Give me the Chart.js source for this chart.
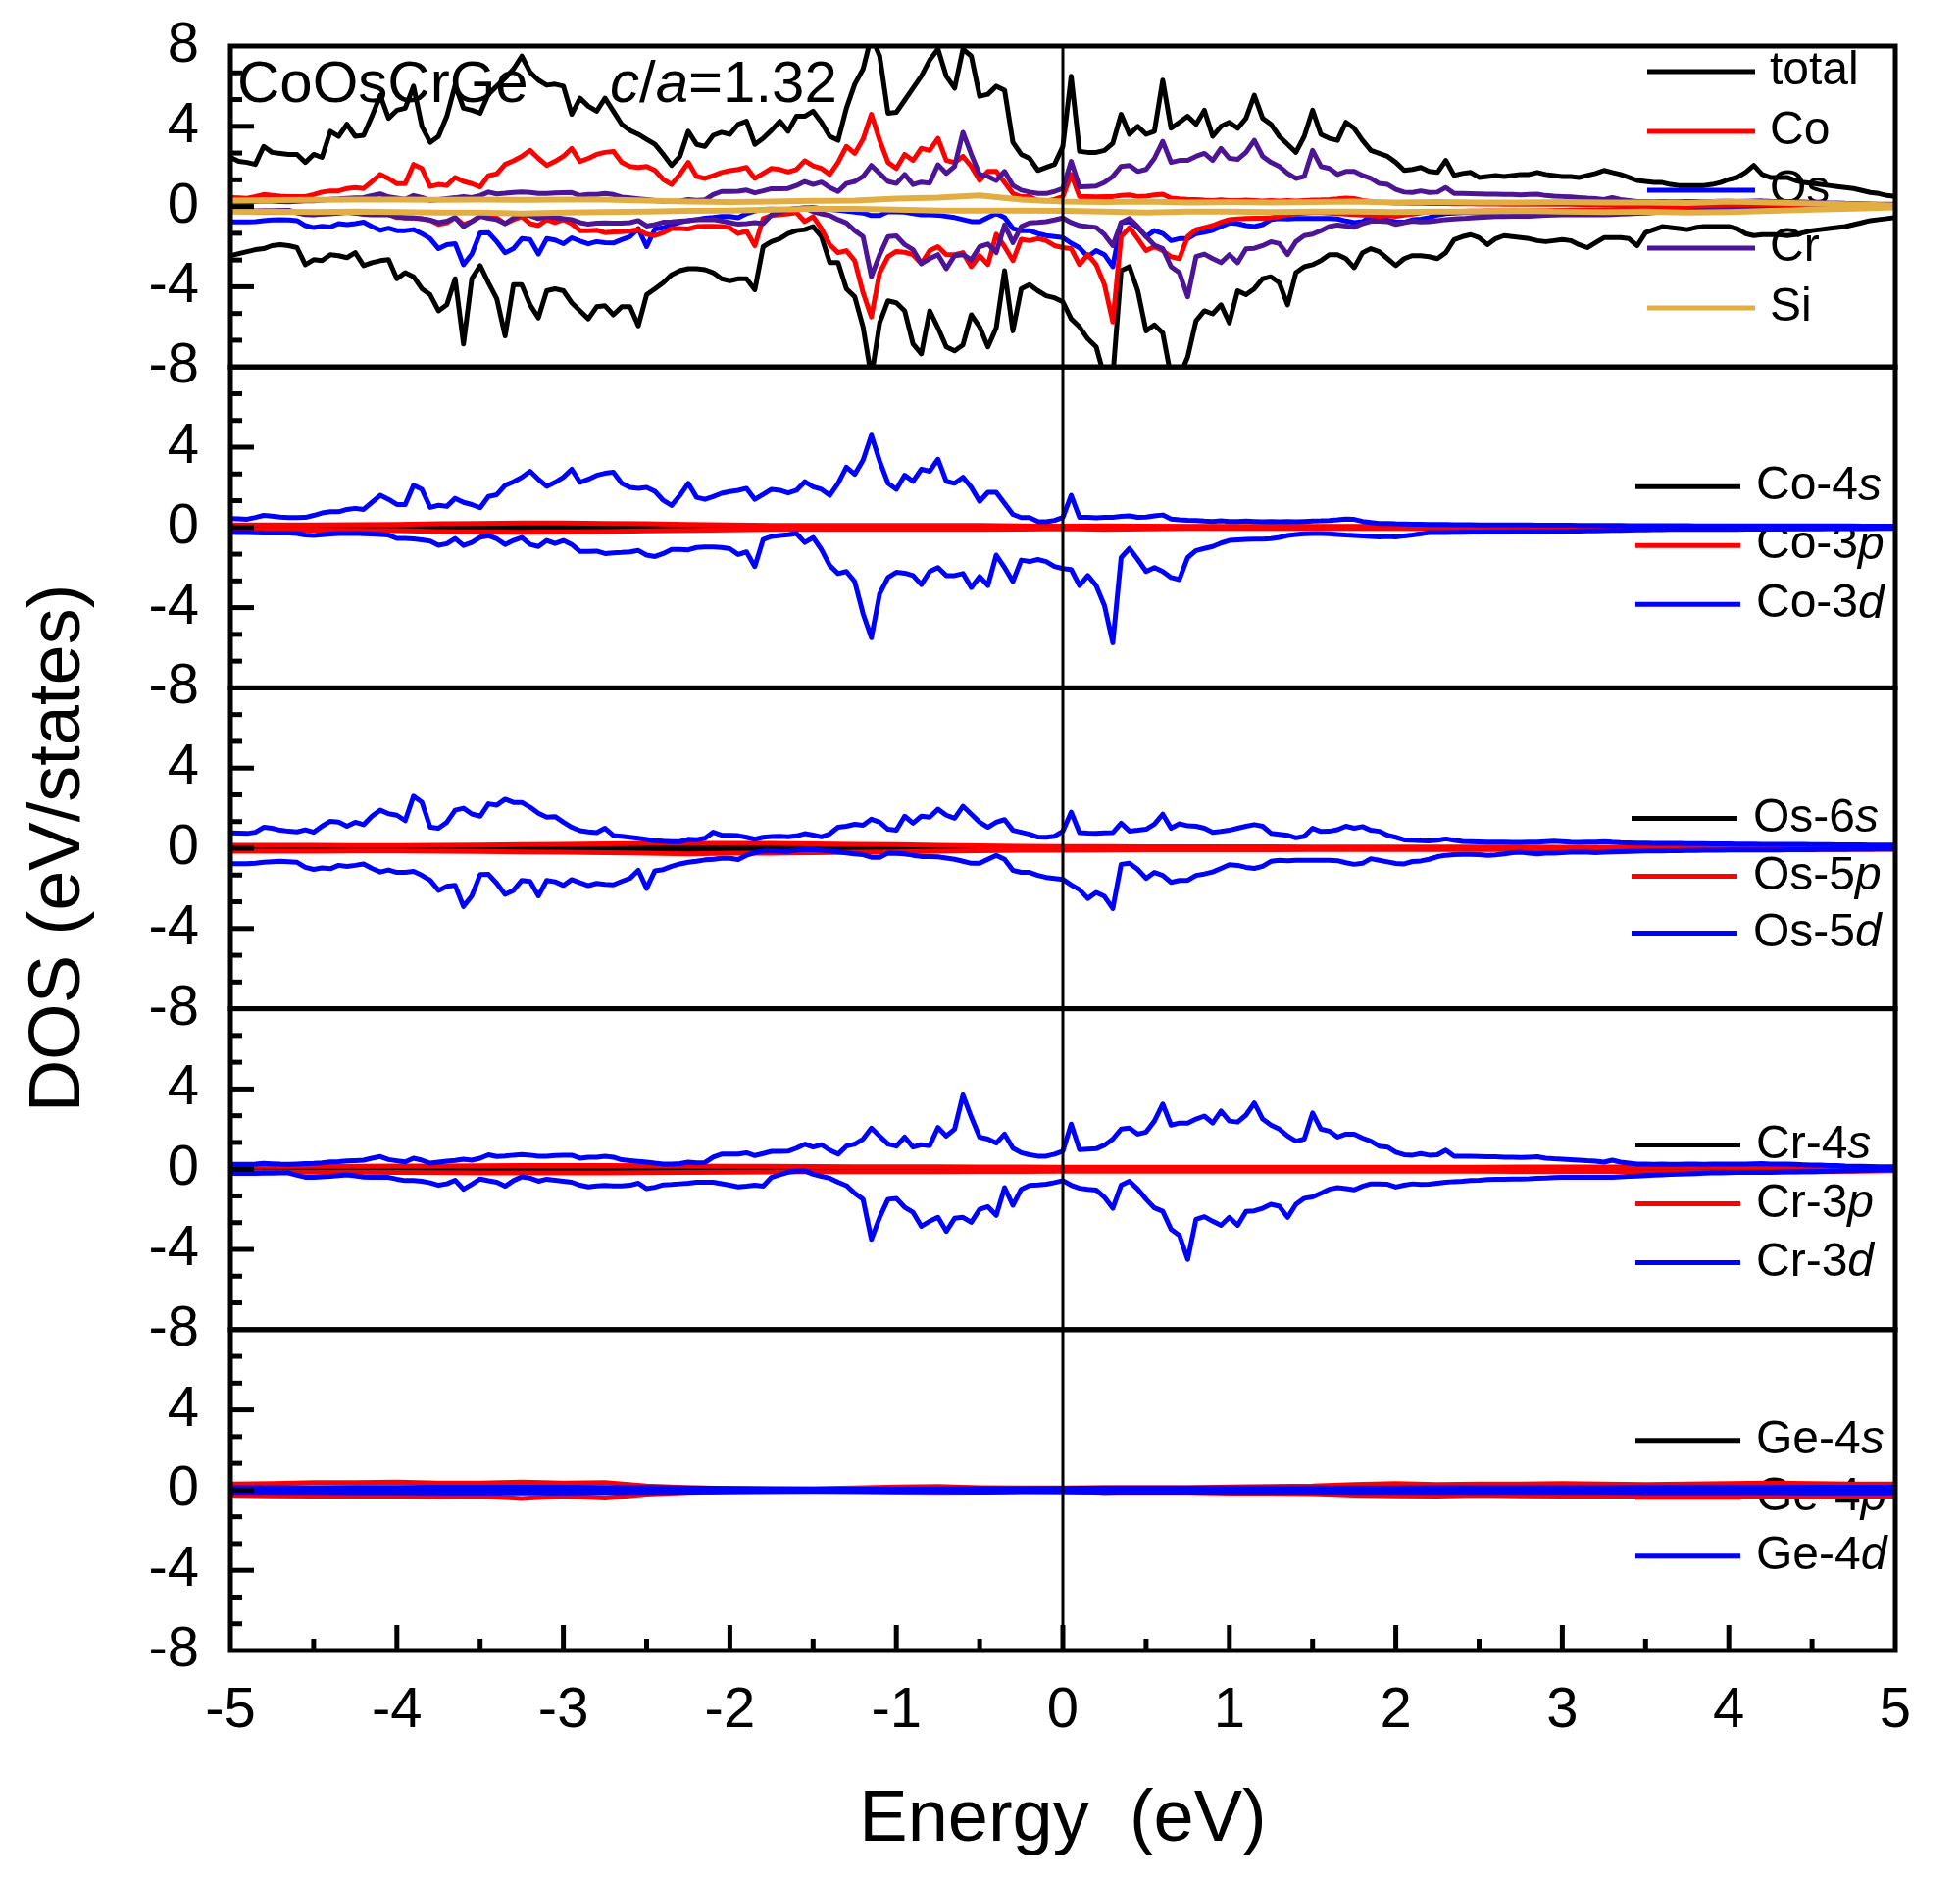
<!DOCTYPE html>
<html><head><meta charset="utf-8">
<script src="https://cdn.jsdelivr.net/npm/chart.js@4.4.1/dist/chart.umd.min.js"></script>
<style>html,body{margin:0;padding:0;background:#fff;}canvas{display:block;}</style>
</head><body>
<canvas id="c" width="1999" height="1917" style="width:1999px;height:1917px"></canvas>
<script>
// ---------- axes / categories ----------
const xTickValues = [-5,-4,-3,-2,-1,0,1,2,3,4,5];
const yTickValues = [-8,-4,0,4,8];
const energyFine = Array.from({length:201}, (_, i) => +(-5 + i * 0.05).toFixed(2));   // -5 .. 5 step 0.05
const energyCoarse = Array.from({length:41}, (_, i) => -5 + i * 0.25);               // -5 .. 5 step 0.25

const compoundName = 'CoOsCrGe';
const ratioText = [['c', true], ['/', false], ['a', true], ['=1.32', false]];
const xTitle = 'Energy  (eV)';
const yTitle = 'DOS (eV/states)';

const legendTopLabels = ['total','Co','Os','Cr','Si'];
const legendCoLabels = ['Co-4s','Co-3p','Co-3d'];
const legendOsLabels = ['Os-6s','Os-5p','Os-5d'];
const legendCrLabels = ['Cr-4s','Cr-3p','Cr-3d'];
const legendGeLabels = ['Ge-4s','Ge-4p','Ge-4d'];

// ---------- series (fine grid, 201 pts) ----------
const totalUp = [
2.45,2.25,2.2,2.1,3.0,2.7,2.65,2.6,2.6,2.2,
2.6,2.45,3.75,3.5,4.1,3.5,3.55,4.5,5.55,4.4,
4.8,4.9,6.0,4.0,3.2,3.5,4.5,6.05,4.9,4.8,
4.65,5.6,6.0,6.4,6.85,7.5,6.7,6.3,6.05,6.1,
6.0,4.6,5.4,5.0,4.75,5.4,4.75,4.1,3.8,3.6,
3.35,3.1,2.6,2.05,2.5,3.75,3.1,3.0,3.55,3.7,
3.6,4.1,4.25,3.1,3.4,3.8,4.25,3.75,4.5,4.5,
4.75,4.2,3.5,3.3,4.9,6.1,6.85,8.5,7.5,4.65,
4.7,5.3,5.9,6.5,7.3,7.85,6.5,5.9,7.85,7.5,
5.5,5.6,6.0,5.8,3.2,2.6,2.4,1.8,1.95,2.1,
3.0,6.5,2.75,2.7,2.7,2.8,3.15,4.6,3.6,4.0,
3.6,3.75,6.3,3.9,4.2,4.5,4.1,4.8,3.5,4.0,
4.2,3.9,4.4,5.55,4.4,4.1,3.5,3.1,2.7,3.5,
4.8,3.6,3.4,3.3,4.2,3.9,3.3,2.8,2.65,2.5,
2.2,1.8,1.85,1.95,1.75,1.7,2.3,1.55,1.65,1.7,
1.45,1.5,1.55,1.5,1.55,1.6,1.6,1.7,1.6,1.55,
1.5,1.5,1.45,1.55,1.65,1.8,1.7,1.6,1.45,1.3,
1.25,1.2,1.2,1.1,1.05,1.05,1.05,1.05,1.1,1.2,
1.35,1.45,1.7,2.05,1.6,1.45,1.45,1.45,1.3,1.2,
1.15,1.1,1.05,1.0,0.95,0.9,0.8,0.7,0.65,0.55,
0.5];
const totalDn = [
-2.45,-2.35,-2.25,-2.15,-2.1,-1.95,-1.9,-1.95,-2.05,-2.9,
-2.65,-2.7,-2.4,-2.45,-2.55,-2.3,-2.95,-2.8,-2.7,-2.65,
-3.6,-3.3,-3.5,-4.1,-4.4,-5.2,-4.9,-3.6,-6.85,-3.6,
-2.95,-3.8,-4.6,-6.45,-3.9,-3.9,-4.9,-5.55,-4.2,-4.1,
-4.2,-4.8,-5.2,-5.6,-5.0,-4.95,-5.4,-5.0,-5.0,-5.95,
-4.4,-4.1,-3.8,-3.4,-3.2,-3.1,-3.1,-3.15,-3.3,-3.6,
-3.7,-3.6,-3.6,-4.15,-2.0,-1.75,-1.6,-1.35,-1.2,-1.15,
-1.0,-1.5,-2.8,-2.8,-4.1,-4.5,-6.0,-8.5,-5.8,-4.7,
-4.8,-5.2,-6.85,-7.35,-5.2,-6.05,-7.0,-7.2,-6.9,-5.4,
-6.0,-7.0,-6.05,-3.2,-6.2,-4.1,-3.9,-4.2,-4.45,-4.55,
-4.75,-5.6,-6.0,-6.6,-7.0,-8.5,-8.5,-3.2,-3.0,-4.2,
-6.2,-5.9,-6.3,-8.5,-8.5,-7.5,-5.7,-5.2,-5.35,-4.9,
-5.8,-4.2,-4.4,-4.1,-3.6,-3.5,-3.8,-4.9,-3.3,-3.0,
-2.9,-2.7,-2.4,-2.4,-2.6,-3.05,-2.3,-2.1,-2.25,-2.6,
-2.95,-2.6,-2.45,-2.45,-2.5,-2.6,-2.3,-1.65,-1.5,-1.4,
-1.55,-1.9,-1.6,-1.45,-1.5,-1.55,-1.6,-1.7,-1.75,-1.7,
-1.65,-1.7,-1.9,-2.05,-1.8,-1.55,-1.55,-1.55,-1.6,-1.95,
-1.3,-1.15,-1.0,-1.05,-1.1,-1.15,-1.05,-1.0,-1.0,-1.0,
-1.0,-1.1,-1.35,-1.45,-1.4,-1.4,-1.4,-1.45,-1.4,-1.3,
-1.2,-1.15,-1.1,-1.05,-1.0,-0.9,-0.8,-0.7,-0.65,-0.6,
-0.55];
const coUp = [
0.44,0.43,0.41,0.5,0.6,0.56,0.52,0.49,0.49,0.5,
0.6,0.72,0.78,0.78,0.9,0.95,0.9,1.25,1.6,1.4,
1.14,1.14,2.1,1.9,1.0,1.1,1.05,1.45,1.25,1.14,
0.98,1.54,1.63,2.1,2.28,2.5,2.8,2.4,2.05,2.25,
2.5,2.9,2.25,2.4,2.6,2.7,2.75,2.2,2.0,1.95,
2.0,1.8,1.35,1.1,1.6,2.2,1.5,1.4,1.54,1.7,
1.79,1.85,1.95,1.4,1.65,1.9,1.85,1.72,1.85,2.28,
2.03,1.9,1.6,2.2,3.0,2.65,3.35,4.6,3.3,2.2,
1.9,2.6,2.3,2.9,2.8,3.4,2.3,2.2,2.5,2.0,
1.3,1.75,1.75,1.2,0.65,0.49,0.49,0.3,0.28,0.35,
0.5,1.6,0.5,0.5,0.48,0.5,0.5,0.55,0.58,0.5,
0.52,0.58,0.62,0.42,0.38,0.36,0.35,0.32,0.3,0.33,
0.3,0.3,0.32,0.3,0.28,0.3,0.28,0.3,0.28,0.3,
0.32,0.33,0.35,0.38,0.42,0.4,0.3,0.25,0.2,0.2,
0.18,0.17,0.16,0.16,0.15,0.15,0.15,0.14,0.14,0.14,
0.13,0.13,0.13,0.12,0.12,0.12,0.12,0.11,0.11,0.11,
0.11,0.11,0.1,0.1,0.1,0.1,0.1,0.1,0.09,0.09,
0.09,0.09,0.09,0.09,0.09,0.09,0.08,0.08,0.08,0.08,
0.08,0.08,0.08,0.08,0.08,0.08,0.08,0.07,0.07,0.07,
0.07,0.07,0.07,0.07,0.07,0.07,0.06,0.06,0.06,0.06,
0.06];
const coDn = [
-0.24,-0.25,-0.26,-0.27,-0.28,-0.28,-0.28,-0.28,-0.3,-0.38,
-0.4,-0.36,-0.33,-0.3,-0.3,-0.29,-0.31,-0.33,-0.35,-0.38,
-0.55,-0.55,-0.57,-0.62,-0.68,-0.89,-0.81,-0.55,-0.9,-0.75,
-0.49,-0.41,-0.57,-0.85,-0.65,-0.5,-0.85,-0.95,-0.65,-0.8,
-0.65,-0.85,-1.2,-1.2,-1.18,-1.3,-1.27,-1.25,-1.22,-1.15,
-1.38,-1.45,-1.3,-1.1,-1.1,-1.12,-1.0,-0.98,-0.98,-1.0,
-1.06,-1.35,-1.22,-1.95,-0.6,-0.45,-0.4,-0.36,-0.3,-0.75,
-0.5,-1.1,-1.9,-2.3,-2.2,-2.7,-4.3,-5.5,-3.3,-2.5,
-2.24,-2.28,-2.4,-2.85,-2.2,-2.0,-2.4,-2.4,-2.3,-3.0,
-2.45,-2.9,-1.38,-2.0,-2.7,-1.63,-1.7,-1.6,-1.7,-1.95,
-2.05,-2.1,-2.9,-2.4,-2.9,-3.9,-5.75,-1.5,-1.05,-1.6,
-2.2,-2.0,-2.2,-2.5,-2.6,-1.5,-1.15,-1.05,-0.95,-0.78,
-0.65,-0.62,-0.6,-0.58,-0.58,-0.56,-0.5,-0.4,-0.35,-0.32,
-0.3,-0.3,-0.32,-0.35,-0.38,-0.4,-0.42,-0.45,-0.48,-0.45,
-0.48,-0.42,-0.38,-0.32,-0.25,-0.25,-0.25,-0.24,-0.24,-0.23,
-0.23,-0.22,-0.22,-0.22,-0.21,-0.21,-0.2,-0.2,-0.2,-0.19,
-0.19,-0.18,-0.18,-0.17,-0.17,-0.16,-0.15,-0.14,-0.13,-0.12,
-0.12,-0.11,-0.11,-0.1,-0.1,-0.1,-0.1,-0.1,-0.09,-0.09,
-0.09,-0.09,-0.08,-0.08,-0.08,-0.08,-0.08,-0.07,-0.07,-0.07,
-0.07,-0.07,-0.06,-0.06,-0.06,-0.06,-0.06,-0.06,-0.05,-0.05,
-0.05];
const osUp = [
0.77,0.76,0.74,0.8,1.05,1.0,0.9,0.85,0.82,0.92,
0.8,1.1,1.35,1.31,1.1,1.3,1.18,1.6,1.9,1.72,
1.65,1.38,2.6,2.3,1.05,1.0,1.3,1.9,2.0,1.71,
1.6,2.22,2.15,2.45,2.29,2.29,2.05,1.75,1.55,1.58,
1.3,1.05,0.88,0.82,0.78,1.0,0.64,0.6,0.55,0.5,
0.44,0.38,0.35,0.33,0.33,0.45,0.43,0.5,0.8,0.65,
0.65,0.63,0.55,0.45,0.55,0.59,0.6,0.58,0.62,0.73,
0.66,0.57,0.72,1.05,1.1,1.2,1.15,1.45,1.3,0.95,
0.9,1.6,1.25,1.6,1.55,1.95,1.65,1.5,2.1,1.7,
1.3,1.05,1.3,1.43,0.9,0.8,0.7,0.56,0.55,0.6,
0.85,1.8,0.78,0.76,0.75,0.77,0.78,1.25,0.86,0.9,
0.95,1.2,1.7,1.0,1.22,1.12,1.1,1.0,0.8,0.84,
0.9,1.0,1.1,1.18,1.1,0.75,0.7,0.65,0.52,0.6,
1.0,0.84,0.85,0.93,1.1,1.0,1.08,0.9,0.85,0.65,
0.55,0.42,0.4,0.38,0.37,0.4,0.47,0.4,0.34,0.33,
0.32,0.31,0.3,0.3,0.29,0.29,0.3,0.31,0.33,0.35,
0.33,0.3,0.29,0.3,0.31,0.33,0.3,0.28,0.27,0.26,
0.26,0.25,0.25,0.24,0.24,0.23,0.23,0.23,0.22,0.22,
0.22,0.21,0.21,0.21,0.2,0.2,0.2,0.19,0.19,0.19,
0.18,0.18,0.18,0.17,0.17,0.17,0.17,0.16,0.16,0.16,
0.16];
const osDn = [
-0.77,-0.77,-0.77,-0.75,-0.7,-0.67,-0.65,-0.67,-0.7,-0.95,
-1.05,-0.98,-1.02,-0.85,-0.9,-0.85,-0.78,-1.0,-1.18,-1.08,
-1.2,-1.2,-1.15,-1.35,-1.6,-2.1,-1.9,-1.85,-2.9,-2.37,
-1.31,-1.3,-1.75,-2.3,-2.1,-1.6,-1.65,-2.37,-1.6,-1.67,
-1.85,-1.56,-1.72,-1.86,-1.75,-1.8,-1.82,-1.65,-1.5,-1.1,
-2.0,-1.12,-1.06,-0.9,-0.78,-0.7,-0.65,-0.58,-0.55,-0.5,
-0.5,-0.56,-0.35,-0.22,-0.14,-0.13,-0.15,-0.16,-0.1,-0.07,
-0.06,-0.1,-0.14,-0.18,-0.23,-0.28,-0.32,-0.45,-0.45,-0.25,
-0.26,-0.28,-0.35,-0.41,-0.41,-0.43,-0.49,-0.55,-0.65,-0.75,
-0.75,-0.55,-0.35,-0.55,-1.1,-1.2,-1.2,-1.35,-1.45,-1.5,
-1.55,-1.83,-2.06,-2.5,-2.2,-2.4,-3.0,-0.8,-0.75,-1.05,
-1.5,-1.2,-1.35,-1.7,-1.6,-1.6,-1.35,-1.28,-1.18,-1.0,
-0.82,-0.85,-0.95,-1.0,-0.9,-0.65,-0.6,-0.62,-0.6,-0.6,
-0.6,-0.6,-0.6,-0.62,-0.72,-0.8,-0.75,-0.52,-0.6,-0.68,
-0.76,-0.78,-0.66,-0.63,-0.55,-0.42,-0.35,-0.32,-0.3,-0.3,
-0.32,-0.36,-0.33,-0.28,-0.22,-0.2,-0.25,-0.28,-0.25,-0.24,
-0.22,-0.2,-0.2,-0.2,-0.22,-0.2,-0.18,-0.17,-0.16,-0.15,
-0.14,-0.13,-0.13,-0.12,-0.12,-0.11,-0.11,-0.1,-0.1,-0.1,
-0.09,-0.09,-0.09,-0.08,-0.08,-0.08,-0.08,-0.07,-0.07,-0.07,
-0.07,-0.06,-0.06,-0.06,-0.06,-0.05,-0.05,-0.05,-0.04,-0.04,
-0.04];
const crUp = [
0.24,0.24,0.24,0.26,0.29,0.27,0.25,0.24,0.26,0.28,
0.29,0.32,0.36,0.38,0.41,0.43,0.45,0.55,0.63,0.48,
0.42,0.36,0.55,0.45,0.3,0.35,0.4,0.44,0.5,0.45,
0.55,0.72,0.63,0.66,0.7,0.73,0.7,0.65,0.65,0.68,
0.69,0.7,0.55,0.6,0.6,0.65,0.6,0.47,0.43,0.39,
0.35,0.3,0.26,0.25,0.28,0.35,0.31,0.33,0.6,0.75,
0.75,0.76,0.82,0.68,0.78,0.89,0.89,0.9,1.05,1.25,
1.1,1.22,0.95,0.75,1.15,1.25,1.5,2.05,1.65,1.25,
1.15,1.6,1.1,1.22,1.17,2.08,1.65,2.0,3.7,2.6,
1.6,1.5,1.3,1.75,1.05,0.82,0.72,0.65,0.65,0.75,
0.9,2.25,0.98,1.0,1.02,1.2,1.5,2.0,2.05,1.75,
1.85,2.4,3.25,2.2,2.3,2.3,2.5,2.65,2.3,2.9,
2.4,2.35,2.7,3.3,2.5,2.2,2.0,1.65,1.4,1.5,
2.8,2.0,1.9,1.6,1.75,1.75,1.55,1.4,1.15,1.1,
0.85,0.72,0.7,0.78,0.7,0.72,0.95,0.65,0.65,0.64,
0.63,0.62,0.62,0.6,0.6,0.58,0.6,0.62,0.55,0.52,
0.5,0.48,0.45,0.42,0.4,0.35,0.45,0.35,0.3,0.25,
0.25,0.24,0.25,0.24,0.24,0.25,0.25,0.24,0.25,0.26,
0.26,0.25,0.26,0.27,0.28,0.26,0.25,0.25,0.24,0.22,
0.2,0.2,0.18,0.18,0.16,0.15,0.14,0.13,0.12,0.12,
0.12];
const crDn = [
-0.21,-0.21,-0.21,-0.21,-0.2,-0.2,-0.19,-0.19,-0.3,-0.4,
-0.41,-0.38,-0.36,-0.32,-0.28,-0.33,-0.39,-0.41,-0.41,-0.41,
-0.5,-0.57,-0.57,-0.6,-0.68,-0.8,-0.73,-0.55,-1.0,-0.75,
-0.49,-0.58,-0.65,-0.85,-0.57,-0.38,-0.45,-0.6,-0.5,-0.55,
-0.6,-0.65,-0.8,-0.88,-0.83,-0.81,-0.83,-0.83,-0.8,-0.7,
-0.97,-0.9,-0.78,-0.76,-0.73,-0.7,-0.65,-0.65,-0.65,-0.72,
-0.8,-0.88,-0.85,-0.8,-0.85,-0.41,-0.28,-0.15,-0.09,-0.08,
-0.25,-0.36,-0.45,-0.65,-0.82,-1.2,-1.5,-3.5,-2.4,-1.5,
-1.46,-1.9,-2.15,-2.85,-2.6,-2.4,-3.1,-2.45,-2.4,-2.65,
-2.0,-1.87,-2.3,-0.92,-1.8,-1.0,-0.81,-0.79,-0.75,-0.67,
-0.57,-0.8,-0.95,-1.0,-1.04,-1.4,-1.95,-0.8,-0.6,-1.0,
-1.5,-1.93,-2.1,-3.0,-3.3,-4.5,-2.5,-2.37,-2.6,-2.8,
-2.4,-2.8,-2.11,-2.08,-1.95,-1.75,-1.85,-2.4,-1.75,-1.45,
-1.38,-1.2,-1.0,-0.92,-0.97,-1.03,-0.85,-0.73,-0.73,-0.75,
-0.89,-0.8,-0.73,-0.76,-0.75,-0.7,-0.65,-0.62,-0.6,-0.57,
-0.55,-0.52,-0.5,-0.5,-0.49,-0.49,-0.48,-0.46,-0.44,-0.42,
-0.41,-0.41,-0.41,-0.41,-0.41,-0.41,-0.4,-0.38,-0.36,-0.34,
-0.32,-0.3,-0.28,-0.26,-0.25,-0.24,-0.22,-0.2,-0.19,-0.18,
-0.17,-0.16,-0.16,-0.16,-0.16,-0.16,-0.15,-0.14,-0.14,-0.13,
-0.12,-0.11,-0.1,-0.09,-0.08,-0.07,-0.06,-0.05,-0.04,-0.03,
-0.03];

// ---------- small series (coarse grid, 41 pts) ----------
const siUp = [0.3,0.32,0.33,0.35, 0.35,0.33,0.35,0.33, 0.35,0.35,0.3,0.25, 0.22,0.25,0.28,0.3, 0.4,0.45,0.55,0.35, 0.25,0.22,0.25,0.2, 0.22,0.2,0.22,0.25, 0.2,0.22,0.2,0.2, 0.22,0.2,0.2,0.18, 0.25,0.2,0.15,0.1, 0.05];
const siDn = [-0.25,-0.25,-0.28,-0.25, -0.28,-0.3,-0.3,-0.35, -0.3,-0.28,-0.25,-0.22, -0.2,-0.15,-0.12,-0.12, -0.15,-0.2,-0.2,-0.2, -0.22,-0.25,-0.3,-0.25, -0.25,-0.28,-0.25,-0.25, -0.28,-0.25,-0.25,-0.22, -0.25,-0.28,-0.25,-0.3, -0.28,-0.22,-0.15,-0.1, -0.05];

const coSUp = [0.05,0.05,0.05,0.06, 0.06,0.07,0.08,0.09, 0.1,0.1,0.09,0.07, 0.05,0.04,0.03,0.03, 0.03,0.03,0.03,0.03, 0.02,0.03,0.03,0.03, 0.03,0.03,0.03,0.03, 0.02,0.02,0.02,0.02, 0.02,0.02,0.02,0.02, 0.02,0.02,0.02,0.02, 0.02];
const coSDn = [-0.05,-0.05,-0.05,-0.06, -0.07,-0.08,-0.09,-0.1, -0.1,-0.1,-0.08,-0.06, -0.05,-0.04,-0.03,-0.03, -0.03,-0.03,-0.03,-0.03, -0.03,-0.04,-0.03,-0.03, -0.03,-0.03,-0.03,-0.03, -0.02,-0.02,-0.02,-0.02, -0.02,-0.02,-0.02,-0.02, -0.02,-0.02,-0.02,-0.02, -0.02];
const coPUp = [0.12,0.12,0.13,0.14, 0.15,0.18,0.2,0.22, 0.22,0.2,0.18,0.15, 0.12,0.1,0.1,0.1, 0.1,0.1,0.1,0.08, 0.06,0.08,0.06,0.05, 0.05,0.05,0.05,0.05, 0.05,0.06,0.06,0.06, 0.05,0.05,0.05,0.06, 0.05,0.05,0.05,0.05, 0.04];
const coPDn = [-0.12,-0.12,-0.13,-0.14, -0.16,-0.2,-0.22,-0.24, -0.22,-0.2,-0.17,-0.14, -0.12,-0.1,-0.1,-0.1, -0.1,-0.1,-0.1,-0.08, -0.06,-0.1,-0.07,-0.05, -0.05,-0.05,-0.05,-0.05, -0.05,-0.06,-0.06,-0.06, -0.05,-0.05,-0.05,-0.06, -0.05,-0.05,-0.05,-0.05, -0.04];

const osSUp = [0.04,0.04,0.05,0.05, 0.05,0.06,0.06,0.07, 0.08,0.09,0.1,0.1, 0.1,0.09,0.08,0.06, 0.05,0.05,0.04,0.04, 0.03,0.03,0.03,0.03, 0.03,0.03,0.03,0.03, 0.02,0.02,0.02,0.02, 0.02,0.02,0.02,0.02, 0.02,0.02,0.02,0.02, 0.02];
const osSDn = [-0.04,-0.04,-0.05,-0.05, -0.05,-0.06,-0.07,-0.08, -0.09,-0.1,-0.11,-0.11, -0.1,-0.09,-0.08,-0.06, -0.05,-0.05,-0.04,-0.04, -0.03,-0.03,-0.03,-0.03, -0.03,-0.03,-0.03,-0.03, -0.02,-0.02,-0.02,-0.02, -0.02,-0.02,-0.02,-0.02, -0.02,-0.02,-0.02,-0.02, -0.02];
const osPUp = [0.15,0.15,0.15,0.14, 0.14,0.15,0.16,0.18, 0.2,0.22,0.24,0.25, 0.25,0.24,0.22,0.2, 0.18,0.15,0.12,0.1, 0.08,0.08,0.07,0.07, 0.07,0.07,0.06,0.06, 0.06,0.06,0.06,0.06, 0.05,0.05,0.05,0.05, 0.05,0.05,0.05,0.05, 0.05];
const osPDn = [-0.15,-0.15,-0.15,-0.14, -0.14,-0.15,-0.16,-0.18, -0.2,-0.22,-0.24,-0.28, -0.25,-0.24,-0.22,-0.2, -0.18,-0.15,-0.12,-0.1, -0.1,-0.08,-0.07,-0.07, -0.07,-0.07,-0.06,-0.06, -0.06,-0.06,-0.06,-0.06, -0.05,-0.05,-0.05,-0.05, -0.05,-0.05,-0.05,-0.05, -0.05];

const crSUp = [0.03,0.03,0.04,0.04, 0.05,0.05,0.06,0.07, 0.08,0.09,0.1,0.1, 0.1,0.09,0.07,0.05, 0.04,0.04,0.03,0.03, 0.03,0.03,0.03,0.03, 0.03,0.03,0.03,0.03, 0.02,0.02,0.02,0.02, 0.02,0.02,0.02,0.02, 0.02,0.02,0.02,0.02, 0.02];
const crSDn = [-0.03,-0.03,-0.04,-0.04, -0.05,-0.05,-0.06,-0.07, -0.08,-0.1,-0.11,-0.11, -0.1,-0.09,-0.07,-0.05, -0.04,-0.04,-0.03,-0.03, -0.03,-0.03,-0.03,-0.03, -0.03,-0.03,-0.03,-0.03, -0.02,-0.02,-0.02,-0.02, -0.02,-0.02,-0.02,-0.02, -0.02,-0.02,-0.02,-0.02, -0.02];
const crPUp = [0.14,0.14,0.15,0.15, 0.16,0.16,0.17,0.18, 0.18,0.18,0.17,0.16, 0.15,0.14,0.13,0.12, 0.12,0.12,0.11,0.11, 0.1,0.1,0.1,0.1, 0.1,0.1,0.1,0.1, 0.1,0.1,0.1,0.11, 0.11,0.11,0.12,0.12, 0.12,0.12,0.12,0.1, 0.08];
const crPDn = [-0.14,-0.14,-0.15,-0.15, -0.16,-0.17,-0.18,-0.18, -0.19,-0.18,-0.17,-0.16, -0.15,-0.14,-0.13,-0.12, -0.12,-0.12,-0.11,-0.11, -0.1,-0.1,-0.1,-0.1, -0.1,-0.1,-0.1,-0.1, -0.1,-0.1,-0.1,-0.11, -0.11,-0.11,-0.12,-0.12, -0.12,-0.12,-0.12,-0.1, -0.08];

const geSUp = [0.03,0.03,0.03,0.03, 0.03,0.03,0.03,0.03, 0.03,0.03,0.03,0.03, 0.02,0.02,0.02,0.02, 0.02,0.02,0.02,0.02, 0.02,0.04,0.08,0.03, 0.02,0.02,0.02,0.02, 0.02,0.02,0.02,0.02, 0.02,0.02,0.02,0.02, 0.02,0.02,0.02,0.02, 0.02];
const geSDn = [-0.03,-0.03,-0.03,-0.03, -0.03,-0.03,-0.03,-0.03, -0.03,-0.03,-0.03,-0.03, -0.02,-0.02,-0.02,-0.02, -0.02,-0.02,-0.02,-0.02, -0.03,-0.12,-0.08,-0.03, -0.02,-0.02,-0.02,-0.02, -0.02,-0.02,-0.02,-0.02, -0.02,-0.02,-0.02,-0.02, -0.02,-0.02,-0.02,-0.02, -0.02];
const gePUp = [0.3,0.33,0.38,0.38, 0.4,0.35,0.35,0.4, 0.35,0.38,0.2,0.12, 0.08,0.07,0.07,0.1, 0.15,0.18,0.12,0.1, 0.1,0.12,0.12,0.12, 0.15,0.18,0.2,0.28, 0.33,0.28,0.3,0.3, 0.32,0.3,0.28,0.3, 0.32,0.35,0.32,0.3, 0.3];
const gePDn = [-0.25,-0.28,-0.3,-0.3, -0.3,-0.32,-0.3,-0.42, -0.3,-0.4,-0.2,-0.12, -0.08,-0.07,-0.06,-0.08, -0.1,-0.12,-0.1,-0.08, -0.08,-0.12,-0.12,-0.12, -0.15,-0.15,-0.18,-0.25, -0.28,-0.3,-0.25,-0.28, -0.3,-0.3,-0.3,-0.3, -0.32,-0.3,-0.32,-0.3, -0.3];
const geDUp = [0.12,0.12,0.12,0.13, 0.13,0.14,0.14,0.14, 0.14,0.13,0.12,0.1, 0.08,0.06,0.05,0.05, 0.05,0.06,0.07,0.07, 0.08,0.1,0.1,0.1, 0.1,0.1,0.1,0.11, 0.11,0.12,0.12,0.12, 0.12,0.12,0.13,0.13, 0.13,0.13,0.14,0.14, 0.14];
const geDDn = [-0.12,-0.12,-0.12,-0.13, -0.13,-0.14,-0.14,-0.14, -0.14,-0.13,-0.12,-0.1, -0.08,-0.06,-0.05,-0.05, -0.05,-0.06,-0.1,-0.07, -0.08,-0.1,-0.1,-0.1, -0.1,-0.1,-0.1,-0.11, -0.11,-0.12,-0.12,-0.12, -0.12,-0.12,-0.13,-0.13, -0.13,-0.13,-0.14,-0.14, -0.14];

// ---------- styles ----------
const FONT = "'Liberation Sans', Arial, Helvetica, sans-serif";
const C_BLACK = '#000000', C_RED = '#FF0000', C_BLUE = '#0000FF', C_CR = '#4B1596', C_SI = '#E2AE42';
Chart.defaults.font.family = FONT;
Chart.defaults.color = '#000';

function series(energy, values, color, axis, order, width) {
  return {
    data: energy.map((e, i) => ({x: e, y: values[i]})).filter(p => p.y !== undefined),
    borderColor: color, backgroundColor: color, borderWidth: width || 5,
    pointRadius: 0, tension: 0, fill: false, yAxisID: axis, order: order, clip: 0,
    borderJoinStyle: 'round', borderCapStyle: 'round'
  };
}

const datasets = [
  // panel 1: totals / elements
  series(energyCoarse, siUp, C_SI, 'y1', 0, 6), series(energyCoarse, siDn, C_SI, 'y1', 0, 6),
  series(energyFine, crUp, C_CR, 'y1', 1), series(energyFine, crDn, C_CR, 'y1', 1),
  series(energyFine, coUp, C_RED, 'y1', 2), series(energyFine, coDn, C_RED, 'y1', 2),
  series(energyFine, osDn, C_BLUE, 'y1', 3),
  series(energyFine, totalUp, C_BLACK, 'y1', 4), series(energyFine, totalDn, C_BLACK, 'y1', 4),
  // panel 2: Co
  series(energyFine, coUp, C_BLUE, 'y2', 0), series(energyFine, coDn, C_BLUE, 'y2', 0),
  series(energyCoarse, coPUp, C_RED, 'y2', 1), series(energyCoarse, coPDn, C_RED, 'y2', 1),
  series(energyCoarse, coSUp, C_BLACK, 'y2', 2), series(energyCoarse, coSDn, C_BLACK, 'y2', 2),
  // panel 3: Os
  series(energyFine, osUp, C_BLUE, 'y3', 0), series(energyFine, osDn, C_BLUE, 'y3', 0),
  series(energyCoarse, osPUp, C_RED, 'y3', 1), series(energyCoarse, osPDn, C_RED, 'y3', 1),
  series(energyCoarse, osSUp, C_BLACK, 'y3', 2), series(energyCoarse, osSDn, C_BLACK, 'y3', 2),
  // panel 4: Cr
  series(energyFine, crUp, C_BLUE, 'y4', 0), series(energyFine, crDn, C_BLUE, 'y4', 0),
  series(energyCoarse, crPUp, C_RED, 'y4', 1), series(energyCoarse, crPDn, C_RED, 'y4', 1),
  series(energyCoarse, crSUp, C_BLACK, 'y4', 2), series(energyCoarse, crSDn, C_BLACK, 'y4', 2),
  // panel 5: Ge
  series(energyCoarse, geDUp, C_BLUE, 'y5', 0), series(energyCoarse, geDDn, C_BLUE, 'y5', 0),
  series(energyCoarse, gePUp, C_RED, 'y5', 1), series(energyCoarse, gePDn, C_RED, 'y5', 1),
  series(energyCoarse, geSUp, C_BLACK, 'y5', 2), series(energyCoarse, geSDn, C_BLACK, 'y5', 2)
];

const legendSpecs = [
  {axis:'y1', x1:1680, x2:1790, xt:1805, rows:[26,87,147,206,267], labels:legendTopLabels, colors:[C_BLACK,C_RED,C_BLUE,C_CR,C_SI]},
  {axis:'y2', x1:1668, x2:1775, xt:1791, rows:[122,182,242], labels:legendCoLabels, colors:[C_BLACK,C_RED,C_BLUE]},
  {axis:'y3', x1:1664, x2:1772, xt:1788, rows:[133,192,250], labels:legendOsLabels, colors:[C_BLACK,C_RED,C_BLUE]},
  {axis:'y4', x1:1668, x2:1775, xt:1791, rows:[139,199,259], labels:legendCrLabels, colors:[C_BLACK,C_RED,C_BLUE]},
  {axis:'y5', x1:1668, x2:1775, xt:1791, rows:[113,171,231], labels:legendGeLabels, colors:[C_BLACK,C_RED,C_BLUE]}
];
const panelIds = ['y1','y2','y3','y4','y5'];

const framePlugin = {
  id: 'frame',
  beforeDatasetsDraw(chart) {
    const ctx = chart.ctx;
    ctx.save();
    ctx.fillStyle = '#000';
    ctx.textBaseline = 'alphabetic';
    ctx.font = '60px ' + FONT;
    ctx.fillText(compoundName, 242, 104);
    let x = 622;
    ratioText.forEach(([t, it]) => {
      ctx.font = (it ? 'italic ' : '') + '60px ' + FONT;
      ctx.fillText(t, x, 104);
      x += ctx.measureText(t).width;
    });
    legendSpecs.forEach(spec => {
      const ys = chart.scales[spec.axis];
      spec.labels.forEach((lab, k) => {
        const y = ys.top + spec.rows[k];
        ctx.strokeStyle = spec.colors[k];
        ctx.lineWidth = 5;
        ctx.beginPath(); ctx.moveTo(spec.x1, y); ctx.lineTo(spec.x2, y); ctx.stroke();
        ctx.textBaseline = 'middle';
        const m = /^(.*-\d)([spd])$/.exec(lab);
        const base = m ? m[1] : lab;
        ctx.font = '48px ' + FONT;
        ctx.fillText(base, spec.xt, y);
        if (m) {
          const w = ctx.measureText(base).width;
          ctx.font = 'italic 48px ' + FONT;
          ctx.fillText(m[2], spec.xt + w, y);
        }
      });
    });
    ctx.restore();
  },
  beforeDatasetDraw(chart, args) {
    const ys = args.meta.yScale, ca = chart.chartArea, ctx = chart.ctx;
    ctx.save();
    ctx.beginPath();
    ctx.rect(ca.left, ys.top, ca.right - ca.left, ys.bottom - ys.top);
    ctx.clip();
  },
  afterDatasetDraw(chart) { chart.ctx.restore(); },
  afterDatasetsDraw(chart) {
    const ctx = chart.ctx, ca = chart.chartArea, xs = chart.scales.x;
    ctx.save();
    ctx.strokeStyle = '#000';
    ctx.lineCap = 'butt';
    const line = (x1, y1, x2, y2) => { ctx.beginPath(); ctx.moveTo(x1, y1); ctx.lineTo(x2, y2); ctx.stroke(); };
    // Fermi level line
    ctx.lineWidth = 3;
    const x0 = xs.getPixelForValue(0);
    line(x0, ca.top, x0, ca.bottom);
    // panel frames + y ticks
    panelIds.forEach(id => {
      const ys = chart.scales[id];
      ctx.lineWidth = 5;
      ctx.strokeRect(ca.left, ys.top, ca.right - ca.left, ys.bottom - ys.top);
      const vals = ys.ticks.map(t => t.value);
      for (let i = 0; i < vals.length; i++) {
        const v = vals[i];
        if (i > 0 && i < vals.length - 1) {
          const y = ys.getPixelForValue(v);
          line(ca.left, y, ca.left + 24, y);
        }
        if (i < vals.length - 1) {
          const step = (vals[i + 1] - v) / 3;
          [1, 2].forEach(k => { const y = ys.getPixelForValue(v + k * step); line(ca.left, y, ca.left + 12, y); });
        }
      }
    });
    // x ticks (bottom only, inward)
    ctx.lineWidth = 5;
    const xv = xs.ticks.map(t => t.value);
    for (let i = 0; i < xv.length; i++) {
      const px = xs.getPixelForValue(xv[i]);
      if (i > 0 && i < xv.length - 1) line(px, ca.bottom, px, ca.bottom - 26);
      if (i < xv.length - 1) {
        const pm = xs.getPixelForValue((xv[i] + xv[i + 1]) / 2);
        line(pm, ca.bottom, pm, ca.bottom - 12);
      }
    }
    ctx.restore();
  }
};

function yAxis(showTop, withTitle) {
  return {
    type: 'linear', position: 'left', stack: 'dos', stackWeight: 1, offset: false,
    min: -8, max: 8,
    afterBuildTicks: s => { s.ticks = yTickValues.map(v => ({value: v})); },
    ticks: { autoSkip: false, font: {size: 58}, color: '#000', padding: 32,
      callback: v => (v === 8 && !showTop) ? '' : String(v) },
    grid: { display: false, drawTicks: false },
    border: { display: false },
    title: withTitle ? { display: true, text: yTitle, font: {size: 74}, color: '#000', padding: {top: 16, bottom: 0} } : { display: false },
    afterFit: s => { s.width = 235; s.paddingTop = 0; s.paddingBottom = 0; }
  };
}

// stacked scales are laid out bottom-up, so the bottom panel (y5) is declared first
new Chart(document.getElementById('c'), {
  type: 'line',
  data: { datasets },
  options: {
    responsive: false, maintainAspectRatio: false, animation: false, devicePixelRatio: 1,
    events: [], normalized: true,
    layout: { padding: { left: 0, top: 47, right: 66, bottom: 0 } },
    plugins: { legend: { display: false }, tooltip: { enabled: false } },
    scales: {
      x: {
        type: 'linear', position: 'bottom', min: -5, max: 5,
        afterBuildTicks: s => { s.ticks = xTickValues.map(v => ({value: v})); },
        ticks: { autoSkip: false, maxRotation: 0, font: {size: 58}, color: '#000', padding: 27, callback: v => String(v) },
        grid: { display: false, drawTicks: false },
        border: { display: false },
        title: { display: true, text: xTitle, font: {size: 74}, color: '#000', padding: {top: 0, bottom: 16} },
        afterFit: s => { s.height = 234; s.paddingLeft = 0; s.paddingRight = 0; }
      },
      y5: yAxis(false, false),
      y4: yAxis(false, false),
      y3: yAxis(false, true),
      y2: yAxis(false, false),
      y1: yAxis(true, false)
    }
  },
  plugins: [framePlugin]
});
</script>
</body></html>
